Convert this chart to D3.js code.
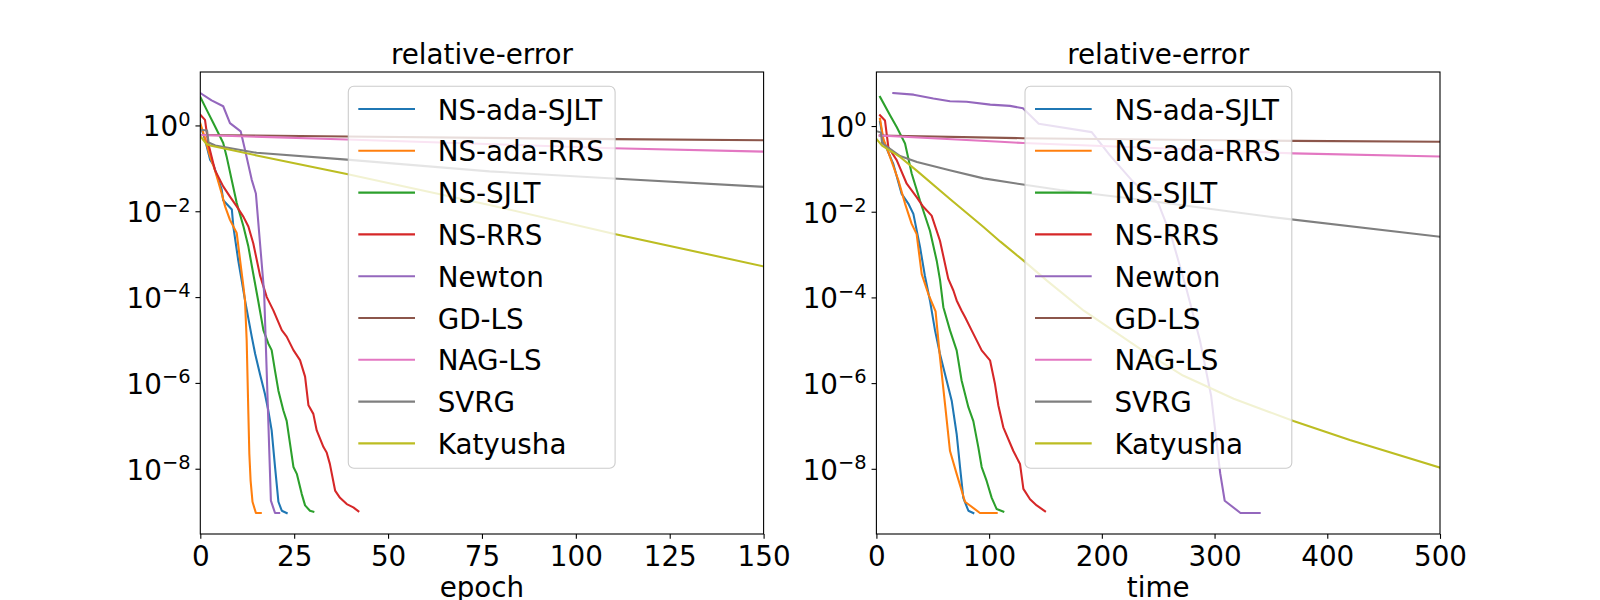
<!DOCTYPE html>
<html>
<head>
<meta charset="utf-8">
<script src="https://cdn.jsdelivr.net/npm/d3@7"></script>
<style>
  body { margin: 0; background: #fff; }
  text { font-family: "DejaVu Sans", sans-serif; fill: #000; }
</style>
</head>
<body>
<svg id="chart" width="1600" height="600"></svg>
<script>
// legend order = draw order
const methods = ["NS-ada-SJLT", "NS-ada-RRS", "NS-SJLT", "NS-RRS", "Newton", "GD-LS", "NAG-LS", "SVRG", "Katyusha"];
const colors = ["#1f77b4", "#ff7f0e", "#2ca02c", "#d62728", "#9467bd", "#8c564b", "#e377c2", "#7f7f7f", "#bcbd22"];

const epochTicks = [0, 25, 50, 75, 100, 125, 150];
const timeTicks = [0, 100, 200, 300, 400, 500];
const errTicks = [1e-8, 1e-6, 1e-4, 1e-2, 1];

// relative error vs epoch, [epoch, error]
const epochNsAdaSjlt = [[0, 1.0], [1.25, 0.47], [2.6, 0.16], [3.5, 0.12], [5.7, 0.032], [6.1, 0.018], [8.4, 0.011], [8.8, 4.4e-3],
  [10.1, 7.2e-4], [11.0, 2.5e-4], [11.9, 8.5e-5], [13.7, 1.2e-5], [14.6, 4.8e-6], [15.9, 1.6e-6], [17.2, 5.6e-7], [18.1, 2.3e-7],
  [19.0, 7.8e-8], [19.9, 1.1e-8], [20.8, 1.7e-9], [21.7, 1.05e-9], [23.0, 9.3e-10]];
const epochNsAdaRrs = [[0, 1.12], [1.25, 0.50], [2.6, 0.19], [3.9, 0.091], [5.7, 0.026], [6.6, 0.013], [7.9, 6.3e-3], [9.7, 3.1e-3],
  [10.6, 7.2e-4], [11.5, 1.7e-4], [11.9, 8.5e-5], [12.35, 9.8e-6], [12.8, 1.9e-7], [13.06, 2.2e-8], [13.4, 5.2e-9], [13.9, 1.7e-9],
  [14.8, 9.3e-10], [16.1, 9.3e-10]];
const epochNsSjlt = [[0, 4.6], [1.7, 2.3], [3.5, 1.13], [5.25, 0.55], [6.1, 0.39], [7.0, 0.19], [8.35, 0.054], [9.7, 0.0155],
  [11.5, 4.4e-3], [12.8, 1.5e-3], [14.1, 3.5e-4], [15.45, 7.9e-5], [16.8, 1.7e-5], [18.1, 8.3e-6], [19.0, 5.8e-6], [19.9, 1.9e-6],
  [20.8, 6.6e-7], [22.1, 2.3e-7], [23.0, 1.3e-7], [23.9, 3.8e-8], [24.8, 1.1e-8], [25.7, 7.6e-9], [27.0, 2.6e-9], [27.9, 1.4e-9],
  [29.2, 1.05e-9], [30.1, 1.0e-9]];
const epochNsRrs = [[0, 1.78], [1.25, 1.35], [2.1, 0.39], [3.9, 0.091], [6.1, 0.038], [7.9, 0.022], [9.7, 0.013], [11.5, 7.4e-3],
  [12.8, 4.4e-3], [14.1, 1.8e-3], [15.9, 3.2e-4], [17.7, 1.0e-4], [19.45, 4.9e-5], [21.7, 1.7e-5], [23.0, 1.2e-5], [24.8, 5.8e-6],
  [26.55, 3.4e-6], [27.9, 1.4e-6], [28.8, 3.0e-7], [30.1, 1.9e-7], [31.0, 7.8e-8], [32.8, 3.2e-8], [33.65, 2.4e-8], [34.5, 1.3e-8],
  [35.9, 3.1e-9], [37.2, 2.1e-9], [39.0, 1.5e-9], [40.75, 1.26e-9], [42.1, 1.02e-9]];
const epochNewton = [[0, 5.7], [3.0, 3.85], [6.1, 2.8], [7.9, 1.13], [10.75, 0.73], [11.9, 0.27], [13.7, 0.054], [14.8, 0.026],
  [17.0, 1.26e-4], [18.8, 1.8e-9], [19.9, 9.3e-10], [21.0, 9.3e-10]];
const epochGdLs = [[0, 0.60], [39, 0.55], [110, 0.48], [150, 0.45]];
const epochNagLs = [[0, 0.60], [39, 0.47], [110, 0.295], [150, 0.245]];
const epochSvrg = [[0, 0.79], [1.8, 0.76], [2.2, 0.40], [4, 0.34], [15, 0.23], [39, 0.16], [77, 0.085], [110, 0.058], [150, 0.037]];
const epochKatyusha = [[0, 0.56], [1.5, 0.38], [2.6, 0.34], [15, 0.20], [39, 0.074], [77, 0.014], [110, 3.0e-3], [150, 5.2e-4]];

// relative error vs time, [time, error]
const timeNsAdaSjlt = [[3.2, 1.26], [6.15, 0.46], [13.5, 0.16], [15, 0.13], [22.4, 0.026], [28.3, 0.0155], [32.8, 8.9e-3],
  [38.7, 1.5e-3], [43, 3.2e-4], [47.5, 8.5e-5], [52, 1.7e-5], [56.4, 4.8e-6], [62.3, 1.15e-6], [66.8, 3.9e-7], [71.2, 6.5e-8],
  [74.2, 1.1e-8], [77.1, 2.1e-9], [81.6, 1.05e-9], [86, 9.3e-10]];
const timeNsAdaRrs = [[3.2, 1.48], [6.15, 0.50], [12.1, 0.19], [19.5, 0.054], [25.4, 0.0155], [31.3, 5.2e-3], [35.7, 3.0e-3],
  [40.2, 3.5e-4], [46.1, 1.2e-4], [52.5, 4.7e-5], [56.4, 4.0e-6], [60.9, 3.2e-7], [65.3, 2.6e-8], [71.2, 7.6e-9], [78.6, 1.7e-9],
  [91.9, 9.3e-10], [106.7, 9.3e-10]];
const timeNsSjlt = [[3.2, 4.8], [12.1, 1.78], [18, 0.95], [25.4, 0.39], [31.3, 0.078], [38.7, 0.018], [47.5, 3.6e-3], [53.5, 7.2e-4],
  [56.5, 2.5e-4], [59.4, 5.9e-5], [65.3, 1.7e-5], [71.2, 5.8e-6], [75.6, 1.15e-6], [81.6, 2.75e-7], [86, 1.3e-7], [90.4, 3.2e-8],
  [93.4, 1.1e-8], [97.8, 5.2e-9], [102.3, 2.1e-9], [106.7, 1.15e-9], [112.6, 1.0e-9]];
const timeNsRrs = [[3.2, 1.78], [7.6, 1.35], [10.6, 0.32], [18, 0.16], [26.9, 0.045], [35.7, 0.022], [41.6, 0.013], [49, 8.1e-3],
  [56.4, 2.1e-3], [63.8, 2.7e-4], [68.3, 1.45e-4], [71.2, 8.5e-5], [75.6, 4.9e-5], [78.6, 3.5e-5], [84.5, 1.7e-5], [93.4, 5.8e-6],
  [100.8, 3.4e-6], [105.2, 9.5e-7], [108.2, 3.0e-7], [112.6, 9.3e-8], [121.5, 2.6e-8], [127.4, 1.3e-8], [130.4, 3.4e-9],
  [136.3, 1.95e-9], [142.2, 1.4e-9], [149.6, 1.02e-9]];
const timeNewton = [[15, 5.9], [33, 5.4], [50.5, 4.4], [65.3, 3.8], [80, 3.7], [101, 3.16], [118.5, 2.95], [130, 2.6], [144, 1.13],
  [191, 0.72], [207, 0.21], [228, 0.049], [250, 0.0158], [262, 2.5e-3], [275, 1.6e-4], [287, 1.0e-5], [297, 5.0e-7], [305, 7.9e-9],
  [309, 1.8e-9], [323, 9.3e-10], [340, 9.3e-10]];
const timeGdLs = [[3, 0.60], [130, 0.52], [370, 0.45], [500, 0.43]];
const timeNagLs = [[3, 0.60], [110, 0.43], [130, 0.40], [370, 0.23], [500, 0.195]];
const timeSvrg = [[0, 0.76], [4, 0.71], [5, 0.40], [21, 0.20], [36, 0.145], [65, 0.093], [95, 0.060], [130, 0.043], [163, 0.032],
  [228, 0.020], [349, 7.6e-3], [500, 2.6e-3]];
const timeKatyusha = [[0, 0.50], [5, 0.35], [21, 0.19], [36, 0.090], [65, 0.020], [95, 4.4e-3], [110, 2.0e-3], [130, 7.4e-4],
  [151, 2.5e-4], [184, 4.9e-5], [234, 6.3e-6], [272, 1.5e-6], [317, 4.3e-7], [349, 2.1e-7], [370, 1.3e-7], [420, 4.7e-8],
  [500, 1.07e-8]];

const epochSeries = [epochNsAdaSjlt, epochNsAdaRrs, epochNsSjlt, epochNsRrs, epochNewton, epochGdLs, epochNagLs, epochSvrg, epochKatyusha];
const timeSeries = [timeNsAdaSjlt, timeNsAdaRrs, timeNsSjlt, timeNsRrs, timeNewton, timeGdLs, timeNagLs, timeSvrg, timeKatyusha];

// matplotlib-like geometry (16x6 in at 100 dpi, 20pt text)
const fs = 27.78;
const axTop = 72, axBottom = 534;
const tickLen = 4.86, tickPad = 4.86;
const panels = [
  { x0: 200.3, x1: 763.6, xmax: 150, series: epochSeries, ticks: epochTicks, xlabel: "epoch", legendX: 348.3 },
  { x0: 876.4, x1: 1440, xmax: 500, series: timeSeries, ticks: timeTicks, xlabel: "time", legendX: 1025 }
];

const svg = d3.select("#chart");
const supText = e => e === 0 ? "0" : "\u2212" + Math.abs(e);

panels.forEach((p, pi) => {
  const x = d3.scaleLinear().domain([0, p.xmax]).range([p.x0, p.x1]);

  // log autoscale with 5% margins, as matplotlib does
  const all = p.series.flat().map(d => Math.log10(d[1]));
  const lo = d3.min(all), hi = d3.max(all), m = 0.05 * (hi - lo);
  const y = d3.scaleLog().domain([10 ** (lo - m), 10 ** (hi + m)]).range([axBottom, axTop]);

  const g = svg.append("g");

  g.append("clipPath").attr("id", "clip" + pi)
    .append("rect").attr("x", p.x0).attr("y", axTop).attr("width", p.x1 - p.x0).attr("height", axBottom - axTop);

  const line = d3.line().x(d => x(d[0])).y(d => y(d[1]));
  g.append("g").attr("clip-path", `url(#clip${pi})`)
    .selectAll("path")
    .data(p.series)
    .join("path")
    .attr("d", line)
    .attr("fill", "none")
    .attr("stroke", (d, i) => colors[i])
    .attr("stroke-width", 2.08)
    .attr("stroke-linejoin", "round")
    .attr("stroke-linecap", "square");

  // x axis
  const xAxis = g.append("g").attr("transform", `translate(0,${axBottom})`)
    .call(d3.axisBottom(x).tickValues(p.ticks).tickFormat(d3.format("d"))
      .tickSize(tickLen).tickPadding(tickPad).tickSizeOuter(0));
  xAxis.select(".domain").remove();
  xAxis.selectAll("line").attr("stroke", "#000").attr("stroke-width", 1.1);
  xAxis.selectAll("text").attr("font-size", fs).attr("font-family", "DejaVu Sans").attr("fill", "#000").attr("dy", "0.79em");

  // y axis (labels drawn by hand for the superscripts)
  const yAxis = g.append("g").attr("transform", `translate(${p.x0},0)`)
    .call(d3.axisLeft(y).tickValues(errTicks).tickFormat("").tickSize(tickLen).tickSizeOuter(0));
  yAxis.select(".domain").remove();
  yAxis.selectAll("line").attr("stroke", "#000").attr("stroke-width", 1.1);

  const yl = g.append("g").selectAll("text")
    .data(errTicks)
    .join("text")
    .attr("x", p.x0 - tickLen - tickPad)
    .attr("y", d => y(d) + 11)
    .attr("text-anchor", "end")
    .attr("font-size", fs)
    .text("10");
  yl.append("tspan")
    .attr("font-size", fs * 0.7)
    .attr("dy", -10.7)
    .text(d => supText(Math.round(Math.log10(d))));

  // frame
  g.append("rect")
    .attr("x", p.x0).attr("y", axTop)
    .attr("width", p.x1 - p.x0).attr("height", axBottom - axTop)
    .attr("fill", "none").attr("stroke", "#000").attr("stroke-width", 1.1);

  // title and label (the label runs off the bottom edge, as in the original figure)
  g.append("text")
    .attr("x", (p.x0 + p.x1) / 2).attr("y", 63.7)
    .attr("text-anchor", "middle").attr("font-size", fs)
    .text("relative-error");
  g.append("text")
    .attr("x", (p.x0 + p.x1) / 2).attr("y", 597)
    .attr("text-anchor", "middle").attr("font-size", fs)
    .text(p.xlabel);

  // legend
  const lg = g.append("g");
  const box = lg.append("rect")
    .attr("x", p.legendX).attr("y", 86.3)
    .attr("height", 382)
    .attr("rx", 5.6).attr("ry", 5.6)
    .attr("fill", "#fff").attr("fill-opacity", 0.8)
    .attr("stroke", "#cccccc").attr("stroke-width", 1.1);

  const rows = lg.selectAll("g.row")
    .data(methods)
    .join("g")
    .attr("class", "row")
    .attr("transform", (d, i) => `translate(${p.legendX},${86.3 + 22.7 + i * 41.8})`);
  rows.append("line")
    .attr("x1", 10).attr("x2", 66.7)
    .attr("stroke", (d, i) => colors[i]).attr("stroke-width", 2.08);
  const labels = rows.append("text")
    .attr("x", 89.4).attr("y", 10.5)
    .attr("font-size", fs)
    .text(d => d);

  let maxW = 0;
  labels.each(function () { maxW = Math.max(maxW, this.getComputedTextLength()); });
  box.attr("width", 89.4 + maxW + 11.1);
});
</script>
</body>
</html>
